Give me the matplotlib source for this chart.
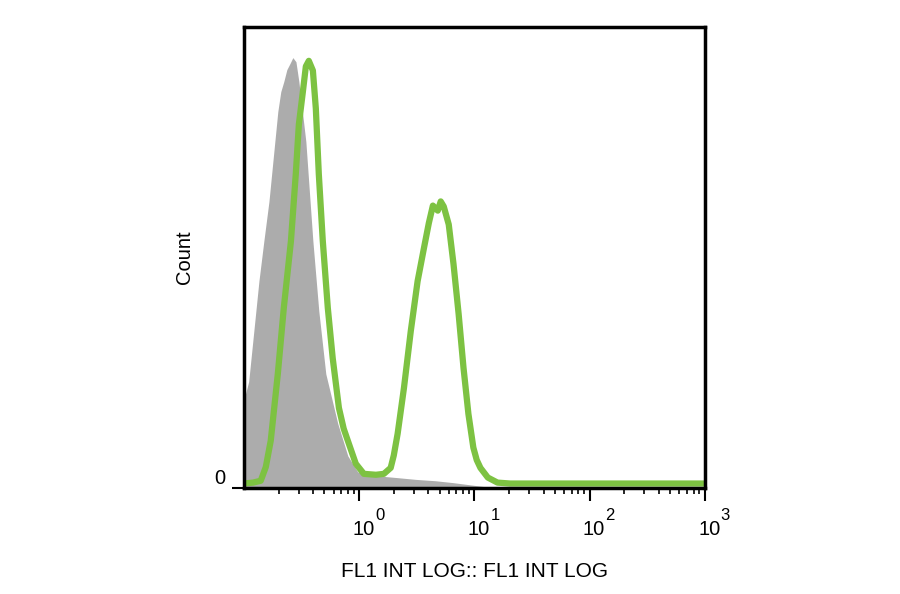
import numpy as np
import matplotlib
matplotlib.use("Agg")
import matplotlib.pyplot as plt
from matplotlib.ticker import LogLocator, FixedLocator, NullFormatter

plt.rcParams['font.family'] = ['Liberation Sans', 'DejaVu Sans']

# Unstained control (gray filled histogram)
gray_x = [0.100, 0.110, 0.122, 0.135, 0.149, 0.165, 0.182, 0.197, 0.209, 0.222, 0.236,
          0.251, 0.266, 0.283, 0.300, 0.345, 0.397, 0.447, 0.514, 0.653, 0.798,
          0.975, 1.40, 2.10, 3.10, 4.60, 6.50, 9.30, 12.5, 15.0]
gray_counts = [19.0, 23.0, 34.0, 44.8, 53.5, 62.1, 72.9, 81.6, 85.9, 88.1, 90.7,
               92.0, 93.3, 92.4, 88.1, 75.1, 53.5, 38.3, 24.7, 13.9, 6.9,
               3.4, 2.6, 2.2, 1.8, 1.5, 1.1, 0.6, 0.2, 0.0]

# Stained sample (green outline)
green_x = [0.100, 0.120, 0.140, 0.155, 0.171, 0.197, 0.222, 0.256, 0.282, 0.300,
           0.325, 0.345, 0.366, 0.397, 0.421, 0.447, 0.484, 0.535, 0.590, 0.668,
           0.735, 0.798, 0.936, 1.10, 1.40, 1.64, 1.88, 2.00, 2.16, 2.45,
           2.81, 3.22, 3.65, 4.03, 4.37, 4.82, 5.11, 5.43, 6.00, 6.60,
           7.31, 8.06, 8.89, 9.81, 10.5, 11.3, 13.1, 15.9, 20.5, 1000]
green_counts = [0.9, 1.1, 1.5, 4.5, 10.2, 24.7, 39.0, 53.5, 68.0, 78.8,
                85.9, 91.4, 92.6, 90.5, 82.3, 68.0, 53.5, 39.0, 28.1, 17.3,
                12.8, 10.2, 5.2, 3.0, 2.8, 3.0, 4.3, 7.0, 11.7, 21.6,
                34.0, 44.8, 51.9, 57.4, 61.2, 60.1, 62.1, 61.0, 57.1, 48.5,
                37.7, 26.0, 16.0, 8.7, 6.0, 4.3, 2.2, 1.1, 0.9, 0.9]

x_ticks = [1, 10, 100, 1000]
x_exponents = ['0', '1', '2', '3']

fig = plt.figure(figsize=(9, 5.94), dpi=100)
ax = fig.add_axes([0.271, 0.179, 0.512, 0.776])

ax.fill_between(gray_x, gray_counts, 0, color='#acacac', lw=0, zorder=1)
ax.plot(green_x, green_counts, color='#7dc242', lw=4.5, solid_joinstyle='round',
        solid_capstyle='round', zorder=2)

ax.set_xscale('log')
ax.set_xlim(0.1, 1000)
ax.set_ylim(0, 100)

ax.xaxis.set_major_locator(FixedLocator(x_ticks))
ax.xaxis.set_major_formatter(NullFormatter())
ax.xaxis.set_minor_locator(LogLocator(base=10, subs=np.arange(2, 10)))
ax.xaxis.set_minor_formatter(NullFormatter())
ax.tick_params(axis='x', which='major', length=9, width=1.5, direction='out')
ax.tick_params(axis='x', which='minor', length=4.5, width=1.2, direction='out')

# "10" with raised exponent, like the cytometry software labels
trans = ax.get_xaxis_transform()
for v, e in zip(x_ticks, x_exponents):
    ax.annotate('10', xy=(v, 0), xycoords=trans, xytext=(3.2, -23.5),
                textcoords='offset points', ha='center', va='top', fontsize=14.5,
                annotation_clip=False)
    ax.annotate(e, xy=(v, 0), xycoords=trans, xytext=(11.6, -14.5),
                textcoords='offset points', ha='left', va='top', fontsize=12,
                annotation_clip=False)

ax.set_yticks([0])
ax.set_yticklabels(['0'], fontsize=14.5)
ax.tick_params(axis='y', length=9, width=1.5, pad=4)
for lab in ax.get_yticklabels():
    lab.set_va('bottom')

for s in ax.spines.values():
    s.set_linewidth(2.5)
    s.set_color('black')

ax.set_xlabel('FL1 INT LOG:: FL1 INT LOG', fontsize=15, labelpad=41)
ax.set_ylabel('Count', fontsize=14.5, labelpad=15)

fig.savefig('out.png', dpi=100, facecolor='white')
